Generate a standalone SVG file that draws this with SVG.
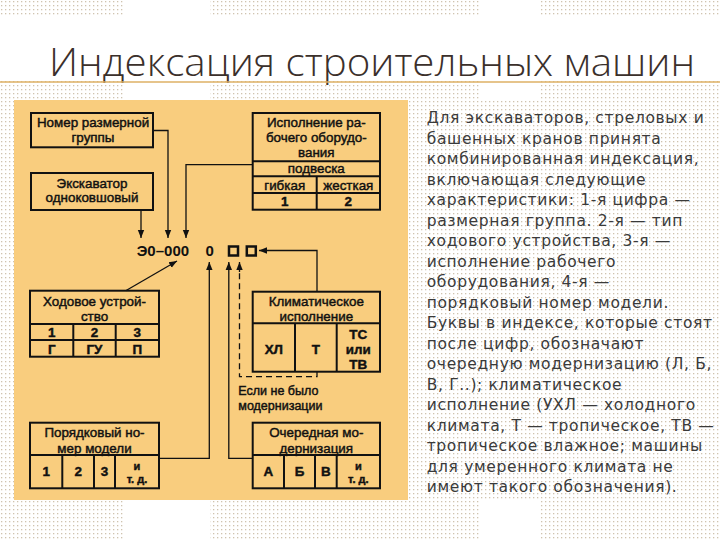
<svg xmlns="http://www.w3.org/2000/svg" width="720" height="540" viewBox="0 0 720 540">
<defs>
<pattern id="dots" width="4" height="4" patternUnits="userSpaceOnUse">
<rect x="1" y="1" width="1.3" height="1.3" fill="#cfc3af"/>
</pattern>
<marker id="ah" viewBox="0 0 10 10" refX="10" refY="5" markerWidth="8" markerHeight="8" markerUnits="userSpaceOnUse" orient="auto">
<path d="M0,1 L10,5 L0,9 z" fill="#111"/>
</marker>
</defs>
<style>
.box{fill:none;stroke:#111;stroke-width:2}
.ln{fill:none;stroke:#111;stroke-width:1.3}
.t{font-family:"Liberation Sans",Arial,sans-serif;font-size:13.4px;fill:#111;stroke:#111;stroke-width:0.45;text-anchor:middle}
.s{font-size:11px}
.b{font-weight:bold}
.code{font-family:"Liberation Sans",Arial,sans-serif;font-size:15px;font-weight:bold;fill:#111}
.body{font-family:"DejaVu Sans",Verdana,sans-serif;font-size:15.5px;fill:#3a3a3a;letter-spacing:0.65px}
</style>
<!-- background -->
<rect width="720" height="540" fill="#ffffff"/>
<rect width="720" height="540" fill="url(#dots)"/>
<rect x="0" y="15" width="720" height="66" fill="#ffffff"/>
<rect x="125" y="0" width="85" height="540" fill="#ffffff"/>
<rect x="480" y="0" width="60" height="100" fill="#ffffff"/>
<rect x="480" y="500" width="60" height="40" fill="#ffffff"/>
<!-- title -->
<text x="49" y="76" font-family="Open Sans, DejaVu Sans, sans-serif" font-size="39" font-weight="300" fill="#3b302b" textLength="646" lengthAdjust="spacingAndGlyphs">Индексация строительных машин</text>
<line x1="0" y1="82" x2="720" y2="82" stroke="#deb064" stroke-width="1.5"/>
<!-- diagram panel -->
<rect x="14" y="100" width="394" height="400" fill="#f9cd7e"/>
<g id="connectors">
<polyline class="ln" points="153,130.5 168,130.5 168,238" marker-end="url(#ah)"/>
<line class="ln" x1="141" y1="210" x2="141" y2="238" marker-end="url(#ah)"/>
<polyline class="ln" points="252.7,164.7 186,164.7 186,238" marker-end="url(#ah)"/>
<polyline class="ln" points="317,291.7 317,250.5 259,250.5" marker-end="url(#ah)"/>
<line class="ln" x1="125.7" y1="290.7" x2="177" y2="261" marker-end="url(#ah)"/>
<polyline class="ln" points="159,458.3 209.3,458.3 209.3,262" marker-end="url(#ah)"/>
<polyline class="ln" points="252.7,458.3 228.8,458.3 228.8,262" marker-end="url(#ah)"/>
<polyline class="ln" points="317,371.7 317,376.7 239.5,376.7 239.5,270" stroke-dasharray="6 4" stroke-width="1.5"/>
<line class="ln" x1="239.5" y1="272" x2="239.5" y2="262" marker-end="url(#ah)"/>
</g>
<g id="code">
<text class="code" x="136.7" y="255.7">Э0–000</text>
<text class="code" x="205.5" y="255.7">0</text>
<rect x="229" y="246.5" width="9" height="9" fill="none" stroke="#111" stroke-width="2.5"/>
<rect x="246.8" y="246.5" width="9" height="9" fill="none" stroke="#111" stroke-width="2.5"/>
</g>
<g id="n-size">
<rect class="box" x="31" y="113" width="122" height="34.3"/>
<text class="t" x="93" y="126.5">Номер размерной</text>
<text class="t" x="93" y="141.5">группы</text>
</g>
<g id="n-excavator">
<rect class="box" x="31" y="173" width="122" height="37"/>
<text class="t" x="92" y="187.5">Экскаватор</text>
<text class="t" x="92" y="202">одноковшовый</text>
</g>
<g id="n-equipment">
<rect class="box" x="252.7" y="113" width="127.3" height="96.7"/>
<line class="box" x1="252.7" y1="161.3" x2="380" y2="161.3"/>
<line class="box" x1="252.7" y1="176.3" x2="380" y2="176.3"/>
<line class="box" x1="252.7" y1="193" x2="380" y2="193"/>
<line class="box" x1="316.7" y1="176.3" x2="316.7" y2="209.7"/>
<text class="t" x="316.3" y="126.5">Исполнение ра-</text>
<text class="t" x="316.3" y="141.8">бочего оборудо-</text>
<text class="t" x="316.3" y="156.5">вания</text>
<text class="t" x="316.3" y="173">подвеска</text>
<text class="t" x="284.7" y="189.8">гибкая</text>
<text class="t" x="348.3" y="189.8">жесткая</text>
<text class="t b" x="284.7" y="206">1</text>
<text class="t b" x="348.3" y="206">2</text>
</g>
<g id="n-running">
<rect class="box" x="30" y="290.7" width="129" height="66"/>
<line class="box" x1="30" y1="324" x2="159" y2="324"/>
<line class="box" x1="30" y1="340" x2="159" y2="340"/>
<line class="box" x1="73.3" y1="324" x2="73.3" y2="356.7"/>
<line class="box" x1="115.7" y1="324" x2="115.7" y2="356.7"/>
<text class="t" x="94.5" y="306">Ходовое устрой-</text>
<text class="t" x="94.5" y="321">ство</text>
<text class="t b" x="51.7" y="337">1</text>
<text class="t b" x="94.5" y="337">2</text>
<text class="t b" x="137.3" y="337">3</text>
<text class="t b" x="51.7" y="354">Г</text>
<text class="t b" x="94.5" y="354">ГУ</text>
<text class="t b" x="137.3" y="354">П</text>
</g>
<g id="n-climate">
<rect class="box" x="252.7" y="291.7" width="127.3" height="80"/>
<line class="box" x1="252.7" y1="323.3" x2="380" y2="323.3"/>
<line class="box" x1="295" y1="323.3" x2="295" y2="371.7"/>
<line class="box" x1="336.7" y1="323.3" x2="336.7" y2="371.7"/>
<text class="t" x="316.3" y="306">Климатическое</text>
<text class="t" x="316.3" y="320.5">исполнение</text>
<text class="t b" x="273.8" y="353.5">ХЛ</text>
<text class="t b" x="315.8" y="353.5">Т</text>
<text class="t b" x="358.3" y="338.5">ТС</text>
<text class="t b" x="358.3" y="353.5">или</text>
<text class="t b" x="358.3" y="368.5">ТВ</text>
</g>
<g id="n-note">
<text class="t" x="238.3" y="395" style="text-anchor:start;font-size:12.5px">Если не было</text>
<text class="t" x="238.3" y="409.5" style="text-anchor:start;font-size:12.5px">модернизации</text>
</g>
<g id="n-serial">
<rect class="box" x="30" y="422.7" width="129" height="65.6"/>
<line class="box" x1="30" y1="455" x2="159" y2="455"/>
<line class="box" x1="62.3" y1="455" x2="62.3" y2="488.3"/>
<line class="box" x1="94" y1="455" x2="94" y2="488.3"/>
<line class="box" x1="115" y1="455" x2="115" y2="488.3"/>
<text class="t" x="94.5" y="437">Порядковый но-</text>
<text class="t" x="94.5" y="452.8">мер модели</text>
<text class="t b" x="46.2" y="476.2">1</text>
<text class="t b" x="78.2" y="476.2">2</text>
<text class="t b" x="104.5" y="476.2">3</text>
<text class="t s b" x="137" y="470">и</text>
<text class="t s b" x="137" y="482.5">т. д.</text>
</g>
<g id="n-modern">
<rect class="box" x="252.7" y="422.7" width="127.3" height="65.6"/>
<line class="box" x1="252.7" y1="455" x2="380" y2="455"/>
<line class="box" x1="284" y1="455" x2="284" y2="488.3"/>
<line class="box" x1="315" y1="455" x2="315" y2="488.3"/>
<line class="box" x1="336.7" y1="455" x2="336.7" y2="488.3"/>
<text class="t" x="316.3" y="437">Очередная мо-</text>
<text class="t" x="316.3" y="452.8">дернизация</text>
<text class="t b" x="268.3" y="476.2">А</text>
<text class="t b" x="299.5" y="476.2">Б</text>
<text class="t b" x="325.8" y="476.2">В</text>
<text class="t s b" x="358.3" y="470">и</text>
<text class="t s b" x="358.3" y="482.5">т. д.</text>
</g>
<g id="description">
<text class="body" x="426.7" y="123.3">Для экскаваторов, стреловых и</text>
<text class="body" x="426.7" y="143.8">башенных кранов принята</text>
<text class="body" x="426.7" y="164.3">комбинированная индексация,</text>
<text class="body" x="426.7" y="184.8">включающая следующие</text>
<text class="body" x="426.7" y="205.3">характеристики: 1-я цифра —</text>
<text class="body" x="426.7" y="225.8">размерная группа. 2-я — тип</text>
<text class="body" x="426.7" y="246.3">ходового устройства, 3-я —</text>
<text class="body" x="426.7" y="266.8">исполнение рабочего</text>
<text class="body" x="426.7" y="287.3">оборудования, 4-я —</text>
<text class="body" x="426.7" y="307.8">порядковый номер модели.</text>
<text class="body" x="426.7" y="328.3">Буквы в индексе, которые стоят</text>
<text class="body" x="426.7" y="348.8">после цифр, обозначают</text>
<text class="body" x="426.7" y="369.3">очередную модернизацию (Л, Б,</text>
<text class="body" x="426.7" y="389.8">В, Г..); климатическое</text>
<text class="body" x="426.7" y="410.3">исполнение (УХЛ — холодного</text>
<text class="body" x="426.7" y="430.8">климата, Т — тропическое, ТВ —</text>
<text class="body" x="426.7" y="451.3">тропическое влажное; машины</text>
<text class="body" x="426.7" y="471.8">для умеренного климата не</text>
<text class="body" x="426.7" y="492.3">имеют такого обозначения).</text>
</g>
</svg>
